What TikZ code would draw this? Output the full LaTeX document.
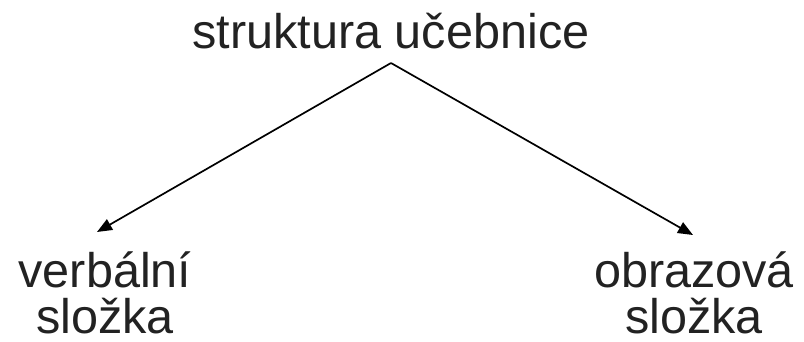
\documentclass[tikz,border=0pt]{standalone}
\usepackage{fontspec}
\setmainfont{Liberation Sans}
\usetikzlibrary{arrows.meta}
\definecolor{txt}{HTML}{222222}
\begin{document}
\begin{tikzpicture}[x=1pt,y=1pt,
  lbl/.style={inner sep=0pt,text=txt,font=\fontsize{48.6}{46}\selectfont,align=center,anchor=base},
  conn/.style={line width=1.7pt,-{Triangle[length=15pt,width=12pt]}}]
\useasboundingbox (0,0) rectangle (804,341);
\node[lbl] (top) at (391,293) {struktura učebnice};
\node[lbl] (left) at (105,8) {verbální\\složka};
\node[lbl] (right) at (694,8) {obrazová\\složka};
\coordinate (apex) at (391,278);
\coordinate (lt) at (97,109);
\coordinate (rt) at (693,106);
\draw[conn] (apex) -- (lt);
\draw[conn] (apex) -- (rt);
\end{tikzpicture}
\end{document}
